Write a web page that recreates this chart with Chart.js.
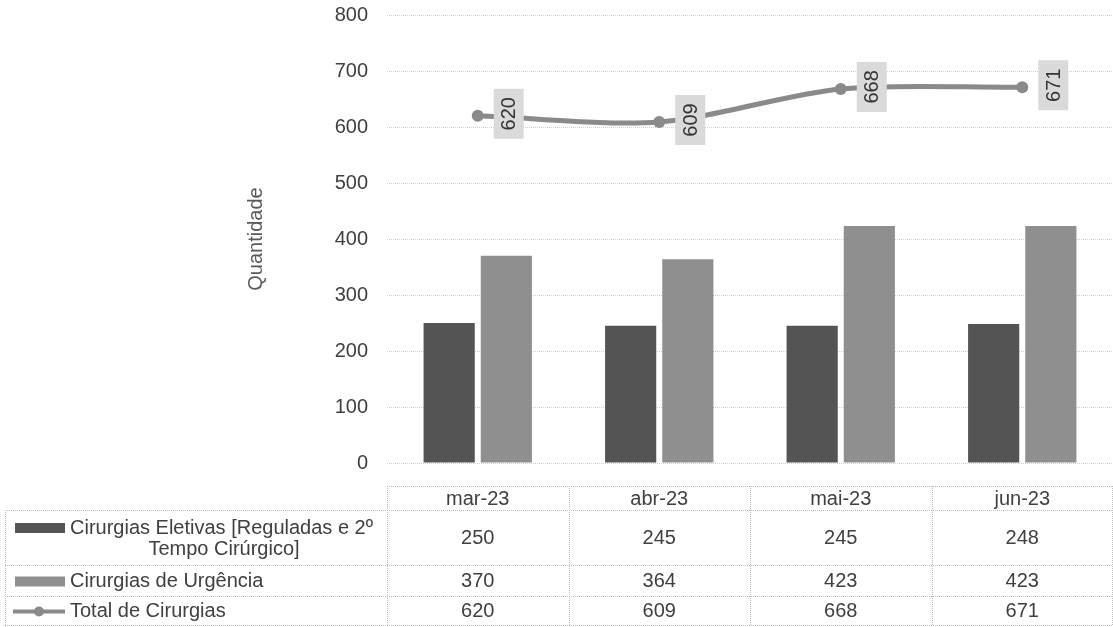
<!DOCTYPE html>
<html>
<head>
<meta charset="utf-8">
<script src="https://cdn.jsdelivr.net/npm/chart.js@4.4.1/dist/chart.umd.min.js"></script>
<style>
    html, body { margin: 0; padding: 0; background: #ffffff; }
    #wrap { position: relative; width: 1113px; height: 627px; }
</style>
</head>
<body>
<div id="wrap"><canvas id="surgeryChart" width="1113" height="627"></canvas></div>
<script>
const months = ["mar-23", "abr-23", "mai-23", "jun-23"];
const eletivas = [250, 245, 245, 248];
const urgencia = [370, 364, 423, 423];
const total = [620, 609, 668, 671];
const yTicks = [0, 100, 200, 300, 400, 500, 600, 700, 800];
const seriesNames = [
    "Cirurgias Eletivas [Reguladas e 2º Tempo Cirúrgico]",
    "Cirurgias de Urgência",
    "Total de Cirurgias"
];

const FONT = "Liberation Sans, Arial, sans-serif";
const darkBar = "#545454";
const lightBar = "#8f8f8f";
const lineGray = "#8a8a8a";

// table rows (top / bottom of each row)
const tableRows = [
    { top: 486, bottom: 510 },
    { top: 510, bottom: 565 },
    { top: 565, bottom: 596 },
    { top: 596, bottom: 625 }
];

function wrapText(ctx, text, maxWidth) {
    const words = text.split(" ");
    const lines = [];
    let line = "";
    words.forEach(w => {
        const test = line ? line + " " + w : w;
        if (ctx.measureText(test).width > maxWidth && line) {
            lines.push(line);
            line = w;
        } else {
            line = test;
        }
    });
    if (line) lines.push(line);
    return lines;
}

// rotated value labels on the total line
const lineLabelsPlugin = {
    id: "lineLabels",
    afterDatasetsDraw(chart) {
        const ctx = chart.ctx;
        const meta = chart.getDatasetMeta(0);
        ctx.save();
        meta.data.forEach((pt, i) => {
            const cx = pt.x + 31;
            const cy = pt.y - 2;
            ctx.fillStyle = "#dadada";
            ctx.fillRect(cx - 15, cy - 25, 30, 50);
            ctx.save();
            ctx.translate(cx, cy);
            ctx.rotate(-Math.PI / 2);
            ctx.font = "20px " + FONT;
            ctx.fillStyle = "#333333";
            ctx.textAlign = "center";
            ctx.textBaseline = "middle";
            ctx.fillText(total[i], 0, 1);
            ctx.restore();
        });
        ctx.restore();
    }
};

// data table under the plot
const dataTablePlugin = {
    id: "dataTable",
    afterDraw(chart) {
        const ctx = chart.ctx;
        const x = chart.scales.x;
        const colW = (x.right - x.left) / months.length;
        const left = x.left;
        const right = x.right;
        const legendLeft = 5;

        ctx.save();
        ctx.strokeStyle = "#bdbdbd";
        ctx.lineWidth = 1;
        ctx.setLineDash([1, 1]);

        // horizontal lines
        ctx.beginPath();
        ctx.moveTo(left, tableRows[0].top + 0.5);
        ctx.lineTo(right, tableRows[0].top + 0.5);
        for (let r = 1; r < tableRows.length; r++) {
            ctx.moveTo(legendLeft, tableRows[r].top + 0.5);
            ctx.lineTo(right, tableRows[r].top + 0.5);
        }
        ctx.moveTo(legendLeft, tableRows[3].bottom + 0.5);
        ctx.lineTo(right, tableRows[3].bottom + 0.5);

        // vertical lines
        for (let c = 0; c <= months.length; c++) {
            const vx = Math.min(Math.round(left + c * colW), chart.width - 1) + 0.5;
            ctx.moveTo(vx, tableRows[0].top);
            ctx.lineTo(vx, tableRows[3].bottom);
        }
        ctx.moveTo(legendLeft + 0.5, tableRows[1].top);
        ctx.lineTo(legendLeft + 0.5, tableRows[3].bottom);
        ctx.stroke();
        ctx.setLineDash([]);

        ctx.font = "20px " + FONT;
        ctx.fillStyle = "#404040";
        ctx.textAlign = "center";
        ctx.textBaseline = "middle";

        const rowValues = [eletivas, urgencia, total];
        months.forEach((m, i) => {
            const cx = x.getPixelForValue(i);
            ctx.fillText(m, cx, (tableRows[0].top + tableRows[0].bottom) / 2 + 1);
            rowValues.forEach((vals, r) => {
                const row = tableRows[r + 1];
                ctx.fillText(vals[i], cx, (row.top + row.bottom) / 2 + 1);
            });
        });

        // legend keys + names
        const textLeft = 68;
        const textRight = 380;
        seriesNames.forEach((name, r) => {
            const row = tableRows[r + 1];
            const mid = (row.top + row.bottom) / 2;
            const lines = wrapText(ctx, name, textRight - textLeft);
            const lh = 21;
            const firstY = mid - (lines.length - 1) * lh / 2 + 1;

            if (r < 2) {
                ctx.fillStyle = r === 0 ? darkBar : lightBar;
                ctx.fillRect(15, firstY - 5, 50, 10);
            } else {
                ctx.strokeStyle = lineGray;
                ctx.lineWidth = 4;
                ctx.beginPath();
                ctx.moveTo(13, firstY);
                ctx.lineTo(65, firstY);
                ctx.stroke();
                ctx.fillStyle = lineGray;
                ctx.beginPath();
                ctx.arc(39, firstY, 5, 0, Math.PI * 2);
                ctx.fill();
            }

            ctx.fillStyle = "#404040";
            lines.forEach((ln, k) => {
                const y = firstY + k * lh;
                if (k === 0) {
                    ctx.textAlign = "left";
                    ctx.fillText(ln, textLeft + 2, y);
                } else {
                    ctx.textAlign = "center";
                    ctx.fillText(ln, (textLeft + textRight) / 2, y);
                }
            });
        });
        ctx.restore();
    }
};

new Chart(document.getElementById("surgeryChart"), {
    data: {
        labels: months,
        datasets: [
            {
                type: "line",
                label: seriesNames[2],
                data: total,
                borderColor: lineGray,
                backgroundColor: lineGray,
                borderWidth: 5,
                tension: 0.3,
                pointRadius: 6,
                pointBackgroundColor: lineGray,
                pointBorderWidth: 0
            },
            {
                type: "bar",
                label: seriesNames[0],
                data: eletivas,
                backgroundColor: darkBar,
                categoryPercentage: 0.63,
                barPercentage: 0.895
            },
            {
                type: "bar",
                label: seriesNames[1],
                data: urgencia,
                backgroundColor: lightBar,
                categoryPercentage: 0.63,
                barPercentage: 0.895
            }
        ]
    },
    options: {
        responsive: false,
        animation: false,
        layout: {
            autoPadding: false,
            padding: { top: 15, right: 0, bottom: 164, left: 0 }
        },
        plugins: {
            legend: { display: false },
            tooltip: { enabled: false }
        },
        scales: {
            x: {
                display: false,
                offset: true
            },
            y: {
                min: 0,
                max: 800,
                afterBuildTicks(scale) {
                    scale.ticks = yTicks.map(v => ({ value: v }));
                },
                afterFit(scale) {
                    scale.width = 387;
                    scale.paddingTop = 0;
                    scale.paddingBottom = 0;
                },
                ticks: {
                    padding: 19,
                    color: "#404040",
                    font: { family: FONT, size: 20 }
                },
                grid: {
                    color: "#cfcfcf",
                    drawTicks: false
                },
                border: { display: false, dash: [1, 1] },
                title: {
                    display: true,
                    text: "Quantidade",
                    color: "#595959",
                    font: { family: FONT, size: 20 },
                    padding: { top: 244, bottom: 0 }
                }
            }
        }
    },
    plugins: [lineLabelsPlugin, dataTablePlugin]
});
</script>
</body>
</html>
